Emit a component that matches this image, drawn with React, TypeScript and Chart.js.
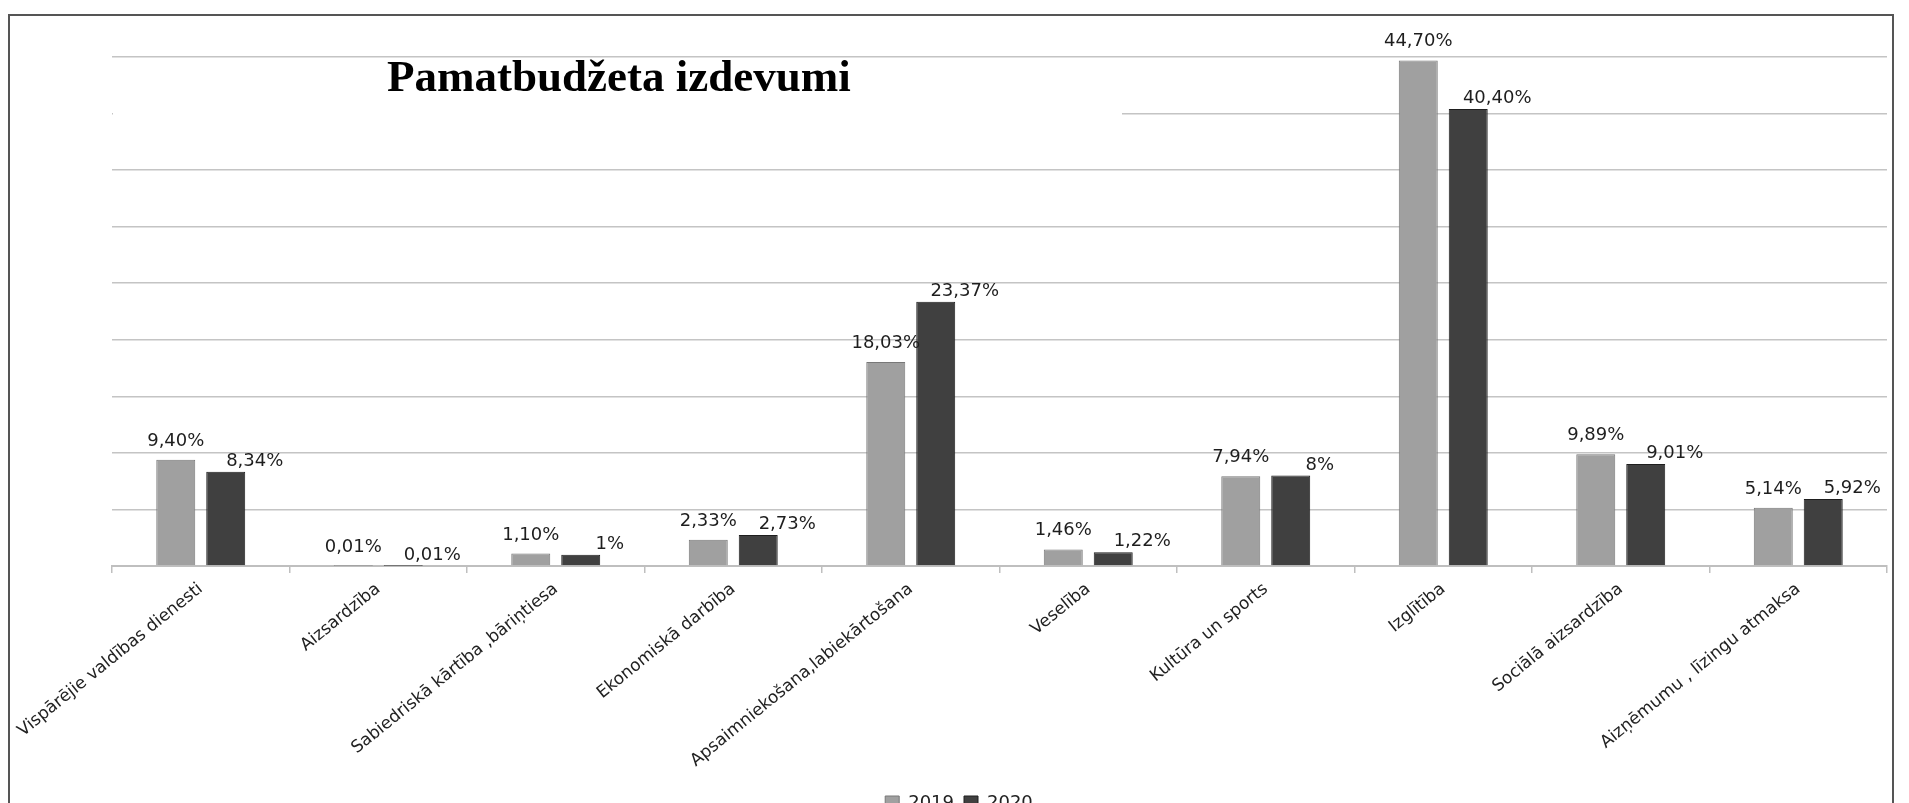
import React, { useEffect, useRef } from 'react';
import { Chart, registerables } from 'chart.js';

Chart.register(...registerables);

const categories = [
  'Vispārējie valdības dienesti',
  'Aizsardzība',
  'Sabiedriskā kārtība ,bāriņtiesa',
  'Ekonomiskā darbība',
  'Apsaimniekošana,labiekārtošana',
  'Veselība',
  'Kultūra un sports',
  'Izglītība',
  'Sociālā aizsardzība',
  'Aizņēmumu , līzingu atmaksa',
];
const seriesNames = ['2019', '2020'];
const values2019 = [9.4, 0.01, 1.1, 2.33, 18.03, 1.46, 7.94, 44.7, 9.89, 5.14];
const values2020 = [8.34, 0.01, 1.0, 2.73, 23.37, 1.22, 8.0, 40.4, 9.01, 5.92];
const yMin = 0;
const yMax = 45;
const yStep = 5;
const titleText = 'Pamatbudžeta izdevumi';

const fmt = (v: number) =>
  Number.isInteger(v) ? `${v}%` : `${v.toFixed(2).replace('.', ',')}%`;

const FONT = '"DejaVu Sans", "Open Sans", sans-serif';

const dataLabelPlugin = {
  id: 'dataLabels',
  afterDatasetsDraw(chart: any) {
    const ctx = chart.ctx;
    ctx.save();
    ctx.font = `18px ${FONT}`;
    ctx.fillStyle = '#1e1e1e';
    ctx.textAlign = 'center';
    ctx.textBaseline = 'alphabetic';
    chart.data.datasets.forEach((ds: any, di: number) => {
      const meta = chart.getDatasetMeta(di);
      meta.data.forEach((bar: any, i: number) => {
        const txt = fmt(ds.data[i]);
        if (di === 0) {
          ctx.fillText(txt, bar.x, bar.y - 14);
        } else {
          ctx.fillText(txt, bar.x + 29, bar.y - 6);
        }
      });
    });
    ctx.restore();
  },
};

export default function App() {
  const ref = useRef<HTMLCanvasElement | null>(null);

  useEffect(() => {
    if (!ref.current) return;
    const chart = new Chart(ref.current, {
      type: 'bar',
      data: {
        labels: categories,
        datasets: [
          {
            label: seriesNames[0],
            data: values2019,
            backgroundColor: '#a0a0a0',
            borderColor: '#787878',
            borderWidth: 1,
          },
          {
            label: seriesNames[1],
            data: values2020,
            backgroundColor: '#404040',
            borderColor: '#1e1e1e',
            borderWidth: 1,
          },
        ],
      },
      options: {
        responsive: false,
        animation: false,
        devicePixelRatio: 1,
        layout: { padding: { top: 57, left: 31, right: 22, bottom: 9 } },
        datasets: {
          bar: { categoryPercentage: 0.563, barPercentage: 0.78 },
        },
        plugins: {
          tooltip: { enabled: false },
          title: { display: false },
          legend: {
            display: true,
            position: 'bottom',
            labels: {
              boxWidth: 14,
              boxHeight: 14,
              padding: 10,
              color: '#222',
              font: { family: FONT, size: 18 },
            },
          },
        },
        scales: {
          x: {
            grid: {
              display: true,
              drawOnChartArea: false,
              drawTicks: true,
              tickLength: 7,
              color: '#bfbfbf',
              lineWidth: 1.5,
              offset: true,
            },
            border: { display: true, color: '#bfbfbf', width: 2 },
            ticks: {
              autoSkip: false,
              minRotation: 39,
              maxRotation: 39,
              padding: 6,
              color: '#222',
              font: { family: FONT, size: 17 },
            },
            afterFit: (s: any) => {
              s.height = 218;
            },
          },
          y: {
            min: yMin,
            max: yMax,
            ticks: { display: false, stepSize: yStep },
            border: { display: false },
            grid: { color: '#c4c4c4', lineWidth: 1.5, drawTicks: false },
            afterFit: (s: any) => {
              s.width = 81;
            },
          },
        },
      },
      plugins: [dataLabelPlugin],
    });
    return () => chart.destroy();
  }, []);

  return (
    <div
      style={{
        position: 'absolute',
        left: 0,
        top: 0,
        width: 1909,
        height: 803,
        overflow: 'hidden',
        background: '#fff',
      }}
    >
      <canvas
        ref={ref}
        width={1909}
        height={831}
        style={{ position: 'absolute', left: 0, top: 0, width: 1909, height: 831, display: 'block' }}
      />
      <div
        style={{
          position: 'absolute',
          left: 113,
          top: 60,
          width: 1009,
          height: 106,
          background: '#fff',
        }}
      >
        <span
          style={{
            position: 'absolute',
            left: 274,
            top: -5.7,
            whiteSpace: 'nowrap',
            fontFamily: '"Liberation Serif", "Times New Roman", serif',
            fontWeight: 'bold',
            fontSize: 45,
            lineHeight: '45px',
            color: '#000',
          }}
        >
          {titleText}
        </span>
      </div>
      <div
        style={{
          position: 'absolute',
          left: 8,
          top: 14,
          width: 1886,
          height: 900,
          border: '2px solid #555',
          boxSizing: 'border-box',
          pointerEvents: 'none',
        }}
      />
    </div>
  );
}
